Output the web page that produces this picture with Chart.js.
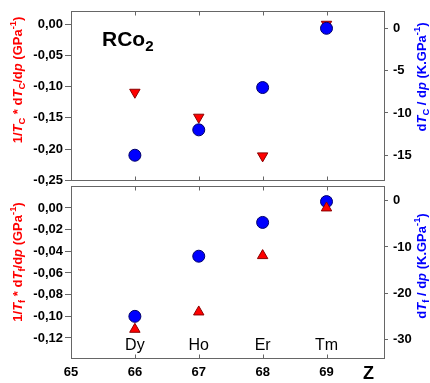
<!DOCTYPE html>
<html>
<head>
<meta charset="utf-8">
<script src="https://cdn.jsdelivr.net/npm/chart.js@4.4.0/dist/chart.umd.min.js"></script>
<style>
  body { margin: 0; background: #fff; font-family: "Liberation Sans", Arial, sans-serif; }
  #wrap { position: relative; width: 430px; height: 383px; overflow: hidden; }
  canvas { position: absolute; left: 0; }
  #topChart { top: -1px; }
  #bottomChart { top: 174px; }
  .lbl { position: absolute; white-space: nowrap; font-weight: bold; line-height: 1; }
  .ytitle { font-size: 13px; transform: translate(-50%, -50%) rotate(-90deg); }
  .red { color: #ff0000; }
  .blue { color: #0000ff; }
  sub, sup { font-size: 72%; line-height: 0; }
</style>
</head>
<body>
<div id="wrap">
  <canvas id="topChart" width="430" height="194"></canvas>
  <canvas id="bottomChart" width="430" height="209"></canvas>

  <div class="lbl" style="left:102px; top:28px; font-size:21px;">RCo<sub>2</sub></div>
  <div class="lbl" style="left:363px; top:364px; font-size:18px;">Z</div>

  <div class="lbl ytitle red" style="left:17px; top:80px;">1/<i>T</i><sub>C</sub> * d<i>T</i><sub>C</sub>/d<i>p</i> (GPa<sup>-1</sup>)</div>
  <div class="lbl ytitle red" style="left:17px; top:262px;">1/<i>T</i><sub>f</sub> * d<i>T</i><sub>f</sub>/d<i>p</i> (GPa<sup>-1</sup>)</div>
  <div class="lbl ytitle blue" style="left:421px; top:77px;">d<i>T</i><sub>C</sub> / d<i>p</i> (K.GPa<sup>-1</sup>)</div>
  <div class="lbl ytitle blue" style="left:421px; top:266px;">d<i>T</i><sub>f</sub> / d<i>p</i> (K.GPa<sup>-1</sup>)</div>
</div>

<script>
// atomic number Z and rare earth element
const zValues = [66, 67, 68, 69];
const elements = ["Dy", "Ho", "Er", "Tm"];
const zTicks = [66, 67, 68, 69];

// top panel: Curie temperature
const relTc = [-0.109, -0.149, -0.211, 0.000];   // 1/Tc * dTc/dp (GPa-1)
const dTcdp = [-15.0, -12.0, -7.0, 0.0];         // dTc/dp (K/GPa)

// bottom panel: Tf
const relTf = [-0.112, -0.096, -0.044, 0.000];   // 1/Tf * dTf/dp (GPa-1)
const dTfdp = [-25.0, -12.0, -4.7, -0.2];        // dTf/dp (K/GPa)

const RED = "#ff0000";
const BLUE = "#0000ff";
const AXIS = "#666666";

function pts(ys) {
  return zValues.map((z, i) => ({ x: z, y: ys[i] }));
}

function comma2(v) {
  let r = Math.round(v * 100) / 100;
  if (Math.abs(r) < 1e-9) r = 0;
  return r.toFixed(2).replace(".", ",");
}

// box around the plot area, with inward ticks on top and bottom
const framePlugin = {
  id: "frame",
  beforeDatasetsDraw(chart) {
    const a = chart.chartArea;
    const ctx = chart.ctx;
    const x = chart.scales.x;
    const l = Math.floor(a.left) + 0.5, r = Math.floor(a.right) + 0.5;
    const t = Math.floor(a.top) + 0.5, b = Math.floor(a.bottom) + 0.5;
    ctx.save();
    ctx.strokeStyle = AXIS;
    ctx.lineWidth = 1;
    ctx.strokeRect(l, t, r - l, b - t);
    ctx.beginPath();
    zTicks.forEach(z => {
      const px = Math.round(x.getPixelForValue(z)) + 0.5;
      ctx.moveTo(px, t); ctx.lineTo(px, t + 4);
      ctx.moveTo(px, b); ctx.lineTo(px, b - 4);
    });
    ctx.stroke();
    ctx.restore();
  }
};

// element names along the bottom of the lower panel
const elementPlugin = {
  id: "elements",
  afterDatasetsDraw(chart) {
    const ctx = chart.ctx;
    const x = chart.scales.x;
    ctx.save();
    ctx.fillStyle = "#000";
    ctx.font = "16px 'Liberation Sans', Arial, sans-serif";
    ctx.textAlign = "center";
    ctx.textBaseline = "alphabetic";
    elements.forEach((el, i) => {
      ctx.fillText(el, x.getPixelForValue(zValues[i]), chart.chartArea.bottom - 8);
    });
    ctx.restore();
  }
};

const tickFont = { family: "'Liberation Sans', Arial, sans-serif", size: 13, weight: "bold" };

function yAxis(side, min, max, step, fmt) {
  return {
    type: "linear",
    position: side,
    min: min,
    max: max,
    ticks: {
      stepSize: step,
      includeBounds: false,
      padding: side === "left" ? 2 : 5,
      color: "#000",
      font: tickFont,
      callback: fmt
    },
    grid: { drawOnChartArea: false, tickLength: side === "left" ? 6 : 4, color: AXIS },
    border: { display: false },
    afterFit: s => { s.width = side === "left" ? 71 : 46; }
  };
}

const circleStyle = {
  pointStyle: "circle",
  pointRadius: 6,
  pointBackgroundColor: BLUE,
  pointBorderColor: "#00006a",
  pointBorderWidth: 1
};

const triStyle = {
  pointStyle: "triangle",
  pointRadius: 6,
  pointBackgroundColor: RED,
  pointBorderColor: "#8b0000",
  pointBorderWidth: 1
};

const common = {
  responsive: false,
  animation: false,
  plugins: { legend: { display: false }, tooltip: { enabled: false } }
};

new Chart(document.getElementById("topChart"), {
  type: "scatter",
  data: {
    datasets: [
      Object.assign({ data: pts(dTcdp), yAxisID: "yR" }, circleStyle),
      Object.assign({ data: pts(relTc), yAxisID: "yL", pointRotation: 180 }, triStyle)
    ]
  },
  options: Object.assign({}, common, {
    layout: { padding: { top: 8, bottom: 0, left: 0, right: 0 } },
    scales: {
      x: {
        type: "linear", min: 65, max: 69.9,
        ticks: { display: false, stepSize: 1, includeBounds: false },
        grid: { display: false },
        border: { display: false },
        afterFit: s => { s.height = 10.5; }
      },
      yL: yAxis("left", -0.25, 0.02, 0.05, comma2),
      yR: yAxis("right", -17.95, 1.95, 5, v => String(Math.round(v)))
    }
  }),
  plugins: [framePlugin]
});

new Chart(document.getElementById("bottomChart"), {
  type: "scatter",
  data: {
    datasets: [
      Object.assign({ data: pts(relTf), yAxisID: "yL" }, triStyle),
      Object.assign({ data: pts(dTfdp), yAxisID: "yR" }, circleStyle)
    ]
  },
  options: Object.assign({}, common, {
    layout: { padding: { top: 8.5, bottom: 0, left: 0, right: 0 } },
    scales: {
      x: {
        type: "linear", min: 65, max: 69.9,
        ticks: { stepSize: 1, includeBounds: false, padding: -1, color: "#000", font: tickFont },
        grid: { display: false },
        border: { display: false },
        afterFit: s => { s.height = 25; }
      },
      yL: yAxis("left", -0.1385, 0.0195, 0.02, comma2),
      yR: yAxis("right", -34, 3, 10, v => String(Math.round(v)))
    }
  }),
  plugins: [framePlugin, elementPlugin]
});
</script>
</body>
</html>
